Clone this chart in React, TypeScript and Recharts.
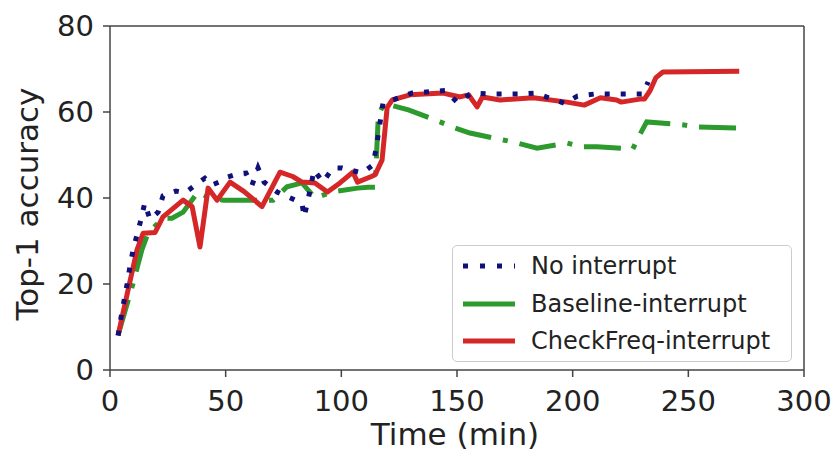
import { LineChart, Line, XAxis, YAxis, ReferenceLine } from 'recharts'

const seriesNames = ['No interrupt', 'Baseline-interrupt', 'CheckFreq-interrupt']
const xTicks = [0, 50, 100, 150, 200, 250, 300]
const yTicks = [0, 20, 40, 60, 80]

const noInterrupt = [
  { t: 3.5, acc: 8 }, { t: 5, acc: 13 }, { t: 6.2, acc: 16.5 }, { t: 7.4, acc: 20 },
  { t: 8.6, acc: 24 }, { t: 10, acc: 28 }, { t: 11.7, acc: 31.5 }, { t: 13.4, acc: 35 },
  { t: 15, acc: 38.8 }, { t: 17.3, acc: 35 }, { t: 20.8, acc: 36.7 }, { t: 22.9, acc: 40.5 },
  { t: 28.5, acc: 41.6 }, { t: 32.4, acc: 41.2 }, { t: 41, acc: 44.6 }, { t: 44, acc: 43 },
  { t: 48.4, acc: 44 }, { t: 51, acc: 44.9 }, { t: 55.3, acc: 45.6 }, { t: 58.8, acc: 45.8 },
  { t: 61.4, acc: 43 }, { t: 64, acc: 47 }, { t: 66.6, acc: 43.7 }, { t: 72.2, acc: 41.4 },
  { t: 83, acc: 38.8 }, { t: 83.9, acc: 35.6 }, { t: 85.6, acc: 39.5 }, { t: 88.2, acc: 46.5 },
  { t: 92, acc: 43.7 }, { t: 96.4, acc: 47 }, { t: 100.3, acc: 47 }, { t: 109, acc: 45.8 },
  { t: 113.7, acc: 47.7 }, { t: 115, acc: 51.4 }, { t: 118, acc: 62 }, { t: 130.6, acc: 64.4 },
  { t: 145, acc: 65 }, { t: 150, acc: 62.3 }, { t: 156.5, acc: 64.4 }, { t: 163, acc: 64.2 },
  { t: 170, acc: 64.2 }, { t: 176.4, acc: 64.2 }, { t: 183.7, acc: 64.4 }, { t: 196.7, acc: 62 },
  { t: 202, acc: 63.7 }, { t: 209.7, acc: 64.2 }, { t: 222.6, acc: 64.2 }, { t: 230.4, acc: 64.2 },
  { t: 232.6, acc: 67 },
]

const baselineInterrupt = [
  { t: 3.5, acc: 8.1 }, { t: 10, acc: 20.2 }, { t: 13.8, acc: 28 }, { t: 16.4, acc: 31.8 },
  { t: 22.9, acc: 35.3 }, { t: 26.8, acc: 35.3 }, { t: 31.6, acc: 36.7 }, { t: 38, acc: 41.4 },
  { t: 43, acc: 40 }, { t: 49, acc: 39.5 }, { t: 70.5, acc: 39.5 }, { t: 76.5, acc: 42.6 },
  { t: 83, acc: 43.5 }, { t: 88.6, acc: 40 }, { t: 96, acc: 41.4 }, { t: 107, acc: 42.3 },
  { t: 111.5, acc: 42.5 }, { t: 114.6, acc: 42.5 }, { t: 116, acc: 59.3 }, { t: 118.5, acc: 62 },
  { t: 129, acc: 60.5 }, { t: 142.7, acc: 57.7 }, { t: 149, acc: 56.3 }, { t: 155.6, acc: 55.1 },
  { t: 170, acc: 53.5 }, { t: 176, acc: 52.8 }, { t: 184.6, acc: 51.6 }, { t: 197.6, acc: 52.8 },
  { t: 204, acc: 51.9 }, { t: 210.5, acc: 51.9 }, { t: 226, acc: 51.4 }, { t: 229, acc: 54.7 },
  { t: 232, acc: 57.7 }, { t: 248, acc: 57 }, { t: 254, acc: 56.5 }, { t: 271, acc: 56.3 },
]

const checkFreqInterrupt = [
  { t: 3.5, acc: 8.1 }, { t: 7.8, acc: 18.6 }, { t: 11.7, acc: 28 }, { t: 14.3, acc: 31.8 },
  { t: 19.5, acc: 32 }, { t: 22.9, acc: 35.6 }, { t: 31.6, acc: 39.5 }, { t: 35.5, acc: 38 },
  { t: 38.9, acc: 28.6 }, { t: 42.4, acc: 42.3 }, { t: 46.3, acc: 39.5 }, { t: 51.9, acc: 43.7 },
  { t: 58, acc: 41.5 }, { t: 65.7, acc: 38 }, { t: 73.5, acc: 46 }, { t: 79, acc: 45 },
  { t: 83, acc: 43.7 }, { t: 88.6, acc: 43.5 }, { t: 94, acc: 41.4 }, { t: 99.4, acc: 43.5 },
  { t: 105, acc: 46 }, { t: 107, acc: 43.7 }, { t: 113, acc: 45 }, { t: 114.6, acc: 45.4 },
  { t: 117.6, acc: 48.8 }, { t: 119.8, acc: 61 }, { t: 122, acc: 62.8 }, { t: 129.7, acc: 64 },
  { t: 144, acc: 64.4 }, { t: 151.3, acc: 63.5 }, { t: 155, acc: 64 }, { t: 158.7, acc: 61.2 },
  { t: 161, acc: 63.5 }, { t: 168.6, acc: 62.8 }, { t: 183, acc: 63.3 }, { t: 197.6, acc: 62.3 },
  { t: 205, acc: 61.6 }, { t: 212, acc: 63.3 }, { t: 219, acc: 62.8 }, { t: 221, acc: 62.3 },
  { t: 229, acc: 63 }, { t: 231, acc: 63 }, { t: 233.5, acc: 65 }, { t: 236, acc: 68 },
  { t: 239, acc: 69.3 }, { t: 272, acc: 69.5 },
]

const FONT = 'DejaVu Sans'
const NAVY = '#10107a'
const GREEN = '#2c9a2c'
const RED = '#d62728'
const AXIS = '#444'

const XTick = (props: any) => (
  <text x={props.x} y={411} textAnchor="middle" fontSize={29} fontFamily={FONT} fill="#222">
    {props.payload.value}
  </text>
)

const YTick = (props: any) => (
  <text x={94} y={props.y} dy={10} textAnchor="end" fontSize={29} fontFamily={FONT} fill="#222">
    {props.payload.value}
  </text>
)

const legendStyles = [
  { stroke: NAVY, dash: '5 12' },
  { stroke: GREEN, dash: undefined },
  { stroke: RED, dash: undefined },
]

function ChartLegend() {
  return (
    <div
      style={{
        position: 'absolute', left: 452, top: 245, width: 340, height: 117,
        border: '1px solid #ccc', borderRadius: 5, background: 'rgba(255,255,255,0.85)',
        boxSizing: 'border-box',
      }}
    >
      {seriesNames.map((name, i) => (
        <div key={name} style={{ position: 'absolute', left: 6, top: 5 + i * 37.5, height: 30, display: 'flex', alignItems: 'center' }}>
          <svg width={58} height={30}>
            <line x1={4} y1={15} x2={56} y2={15} stroke={legendStyles[i].stroke} strokeWidth={5} strokeDasharray={legendStyles[i].dash} />
          </svg>
          <span style={{ marginLeft: 14, fontFamily: FONT, fontSize: 24, color: '#222', whiteSpace: 'nowrap' }}>{name}</span>
        </div>
      ))}
    </div>
  )
}

export default function App() {
  return (
    <div style={{ position: 'absolute', left: 0, top: 0, width: 839, height: 455, background: '#fff' }}>
      <LineChart width={839} height={455} margin={{ top: 26, right: 35, bottom: 0, left: 0 }}>
        <XAxis
          type="number"
          dataKey="t"
          domain={[0, 300]}
          ticks={xTicks}
          tick={XTick}
          tickSize={7}
          height={85}
          stroke={AXIS}
          strokeWidth={1.5}
          label={{
            content: () => (
              <text x={455} y={445} textAnchor="middle" fontSize={31} fontFamily={FONT} fill="#222">Time (min)</text>
            ),
          }}
        />
        <YAxis
          type="number"
          domain={[0, 80]}
          ticks={yTicks}
          tick={YTick}
          tickSize={7}
          width={110}
          stroke={AXIS}
          strokeWidth={1.5}
          label={{
            content: () => (
              <text x={38} y={204} transform="rotate(-90 38 204)" textAnchor="middle" fontSize={31} fontFamily={FONT} fill="#222">Top-1 accuracy</text>
            ),
          }}
        />
        <ReferenceLine y={80} stroke={AXIS} strokeWidth={1.5} />
        <ReferenceLine x={300} stroke={AXIS} strokeWidth={1.5} />
        <Line data={baselineInterrupt} dataKey="acc" name={seriesNames[1]} stroke={GREEN} strokeWidth={5} strokeDasharray="37 12 5 12" dot={false} isAnimationActive={false} />
        <Line data={checkFreqInterrupt} dataKey="acc" name={seriesNames[2]} stroke={RED} strokeWidth={5} dot={false} isAnimationActive={false} strokeLinejoin="round" />
        <Line data={noInterrupt} dataKey="acc" name={seriesNames[0]} stroke={NAVY} strokeWidth={5} strokeDasharray="5 11" dot={false} isAnimationActive={false} />
      </LineChart>
      <ChartLegend />
    </div>
  )
}
